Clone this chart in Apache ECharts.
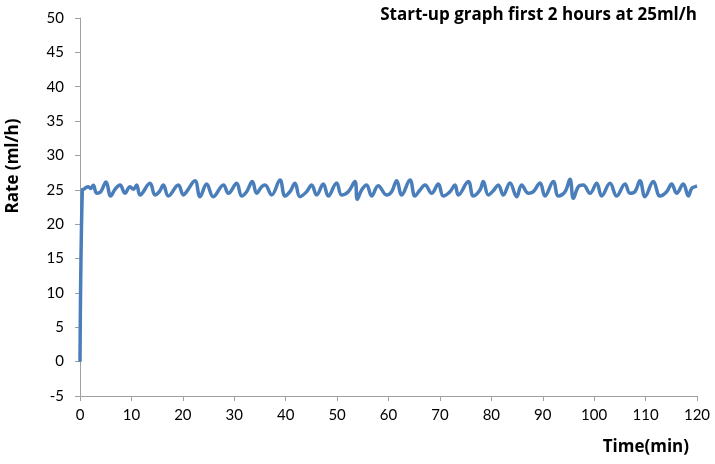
<!DOCTYPE html>
<html>
<head>
<meta charset="utf-8">
<script src="https://cdn.jsdelivr.net/npm/echarts@6/dist/echarts.min.js"></script>
<style>
html,body{margin:0;padding:0;background:#fff;}
#chart{width:715px;height:464px;}
</style>
</head>
<body>
<div id="chart"></div>
<script>
// Time (min) of each read point
var timeMin = [0, 0.45, 0.8, 1.17, 1.62, 2.07, 2.59, 3.24, 4.02, 5.06, 5.96, 6.81, 7.78, 8.75, 9.72, 10.4, 11.02, 11.67,
  13.61, 14.59, 15.43, 16.21, 17.18, 19.12, 20.1, 20.74, 22.36, 23.34, 24.63, 25.93, 27.9, 28.85,
  30.47, 31.44, 32.41, 33.52, 34.36, 35.33, 35.98, 37.28, 38.9, 39.87, 40.84, 41.81, 42.78, 44.08,
  45.05, 46.02, 47.32, 48.29, 49.91, 50.88, 52.18, 53.47, 53.93, 54.77, 55.74, 56.72, 58.0, 59.64,
  60.61, 61.59, 62.56, 64.18, 65.15, 66.12, 67.1, 68.39, 69.69, 70.66, 71.96, 72.93, 73.58, 75.52,
  76.5, 77.79, 78.44, 79.41, 80.38, 81.35, 82.32, 83.62, 84.92, 85.9, 87.2, 88.17, 89.47, 90.44,
  92.06, 93.03, 94.33, 95.3, 95.95, 96.92, 97.89, 99.19, 100.49, 101.46, 103.08, 104.38, 106.0,
  106.97, 107.94, 108.91, 109.89, 111.51, 112.8, 114.1, 115.07, 116.04, 117.34, 118.31, 118.96,
  119.61, 120.0];
// Rate (ml/h) at each time
var rate = [0, 25.0, 25.1, 25.35, 25.45, 25.2, 25.65, 24.5, 24.7, 26.15, 24.1, 25.07, 25.7, 24.5, 25.45, 25.1, 25.7, 24.25,
  25.94, 24.25, 24.73, 25.7, 24.1, 25.7, 24.25, 24.73, 26.33, 24.0, 25.84, 24.0, 25.7, 24.49,
  25.94, 24.1, 24.73, 26.2, 24.49, 25.45, 25.7, 24.25, 26.43, 24.1, 24.73, 25.94, 24.0, 24.73,
  25.7, 24.25, 25.84, 24.1, 26.0, 24.25, 24.73, 26.2, 23.62, 24.97, 25.7, 24.1, 25.6, 24.25,
  24.73, 26.33, 24.25, 26.43, 24.1, 24.97, 25.7, 24.49, 25.84, 24.1, 24.73, 25.7, 24.25, 26.2,
  24.1, 24.97, 26.2, 24.25, 24.88, 25.7, 24.25, 26.0, 24.0, 25.7, 24.49, 24.73, 26.0, 24.1,
  26.2, 24.1, 24.73, 26.53, 23.76, 25.45, 25.7, 24.49, 25.94, 24.1, 25.94, 24.1, 25.84,
  24.49, 24.73, 26.33, 24.0, 26.2, 24.1, 24.73, 25.84, 24.49, 25.84, 24.1, 25.2,
  25.45, 25.55];

var titleText = 'Start-up graph first 2 hours at 25ml/h';
var xName = 'Time(min)';
var yName = 'Rate (ml/h)';

var pts = timeMin.map(function (t, i) { return [t, rate[i]]; });

var chart = echarts.init(document.getElementById('chart'), null, {renderer: 'canvas'});
var axisCol = '#a0a0a0';
var font = 'Lato, "Open Sans", sans-serif';
var boldFont = '"Open Sans", Lato, sans-serif';
chart.setOption({
  animation: false,
  backgroundColor: '#ffffff',
  title: {
    text: titleText,
    right: 13,
    top: 2,
    textStyle: {fontFamily: boldFont, fontWeight: 'bold', fontSize: 17, color: '#000'}
  },
  graphic: [{
    type: 'text',
    x: 13, y: 166,
    rotation: Math.PI / 2,
    style: {text: yName, fontFamily: boldFont, fontWeight: 'bold', fontSize: 17, fill: '#000',
      align: 'center', verticalAlign: 'middle'}
  }],
  grid: {left: 80, right: 18, top: 18, bottom: 68, containLabel: false},
  xAxis: {
    type: 'value',
    min: 0, max: 120, interval: 10,
    axisLine: {onZero: false, lineStyle: {color: axisCol, width: 1}},
    axisTick: {show: true, inside: false, length: 5, lineStyle: {color: axisCol}},
    splitLine: {show: false},
    axisLabel: {margin: 12, fontFamily: font, fontSize: 15, color: '#000'},
    name: xName,
    nameLocation: 'end',
    nameGap: 0,
    nameTextStyle: {fontFamily: boldFont, fontWeight: 'bold', fontSize: 17, color: '#000',
      align: 'right', verticalAlign: 'top', padding: [43, 8, 0, 0]}
  },
  yAxis: {
    type: 'value',
    min: -5, max: 50, interval: 5,
    axisLine: {show: true, lineStyle: {color: axisCol, width: 1}},
    axisTick: {show: true, inside: false, length: 5, lineStyle: {color: axisCol}},
    splitLine: {show: false},
    axisLabel: {margin: 16, fontFamily: font, fontSize: 15, color: '#000'}
  },
  series: [{
    type: 'line',
    data: pts,
    showSymbol: false,
    smooth: 0.4,
    lineStyle: {color: '#4A7EBB', width: 3.5},
    itemStyle: {color: '#4A7EBB'}
  }]
});
</script>
</body>
</html>
